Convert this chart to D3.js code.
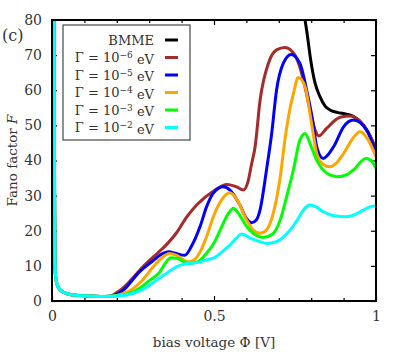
<!DOCTYPE html>
<html>
<head>
<meta charset="utf-8">
<script src="https://cdn.jsdelivr.net/npm/d3@7"></script>
<style>
  body { margin: 0; background: #fff; }
  svg { display: block; }
  svg text { font-family: "DejaVu Serif", "Liberation Serif", serif; }
</style>
</head>
<body>
<svg id="chart" width="407" height="356"></svg>
<script>
// shared low-bias branch (all Γ curves coincide near Φ = 0)
const lowBias = [[0.006, 84], [0.008, 30], [0.009, 12], [0.011, 7], [0.015, 5], [0.02, 3.8],
  [0.03, 2.8], [0.05, 2.0], [0.08, 1.6], [0.11, 1.4], [0.15, 1.3], [0.18, 1.35]];

const bmme = [[0.775, 84], [0.781, 80], [0.786, 77], [0.8, 67.7], [0.812, 62], [0.827, 58.2],
  [0.843, 55.5], [0.858, 54.4], [0.88, 53.7], [0.909, 53.2], [0.93, 52.6], [0.961, 50.1],
  [0.992, 44.9], [1, 43]];

const gamma6 = [[0.2, 2.4], [0.225, 4.2], [0.25, 6.6], [0.275, 9.2], [0.3, 11.5], [0.33, 14],
  [0.355, 16.2], [0.385, 19.5], [0.415, 23.8], [0.447, 27.4], [0.5, 31.4], [0.54, 33.2], [0.57, 32.5],
  [0.59, 31.6], [0.605, 34], [0.616, 39], [0.627, 44], [0.642, 57], [0.668, 67.7], [0.693, 71.5],
  [0.719, 72.2], [0.75, 70], [0.776, 62.9], [0.796, 54.4], [0.812, 48.7], [0.824, 47],
  [0.848, 49.2], [0.889, 52.3], [0.92, 52.7], [0.961, 50.1], [0.992, 44.9], [1, 43]];

const gamma5 = [[0.2, 1.9], [0.22, 3.1], [0.27, 8.3], [0.31, 11.3], [0.344, 13.6], [0.36, 14],
  [0.38, 13.6], [0.41, 13], [0.43, 15.5], [0.457, 21.2], [0.477, 26.8], [0.498, 30.7],
  [0.529, 32.5], [0.55, 31.5], [0.58, 27.3], [0.6, 23.5], [0.616, 22.3], [0.63, 23],
  [0.642, 25.9], [0.662, 37.3], [0.678, 47.7], [0.693, 60], [0.714, 67.7], [0.738, 70.2],
  [0.765, 67.7], [0.786, 60], [0.806, 50.6], [0.817, 43.9], [0.837, 40.6], [0.869, 43.9],
  [0.9, 49.6], [0.93, 51.5], [0.971, 48.7], [1, 42]];

const gamma4 = [[0.2, 1.6], [0.225, 2.3], [0.251, 3.6], [0.28, 6], [0.313, 9.8], [0.34, 12.3],
  [0.362, 13.5], [0.385, 13], [0.42, 11.2], [0.44, 11.8], [0.46, 14.5], [0.477, 18.3],
  [0.498, 24], [0.525, 29], [0.549, 30.8], [0.57, 29], [0.601, 23], [0.62, 20.3], [0.642, 19.3],
  [0.66, 20], [0.683, 25], [0.704, 35], [0.719, 46], [0.735, 55], [0.745, 59], [0.76, 63.6],
  [0.781, 61], [0.801, 50.6], [0.817, 42], [0.835, 39], [0.858, 38.2], [0.88, 39.5], [0.9, 42],
  [0.93, 46.5], [0.951, 48.2], [0.975, 46], [1, 41]];

const gamma3 = [[0.22, 1.7], [0.25, 2.6], [0.27, 3.6], [0.3, 5.8], [0.333, 8.3], [0.35, 10.8],
  [0.367, 12.3], [0.385, 12.2], [0.42, 10.7], [0.45, 11.2], [0.477, 13.6], [0.5, 16.5],
  [0.519, 20.2], [0.545, 25], [0.56, 26.4], [0.575, 25], [0.601, 21.2], [0.625, 19],
  [0.652, 18.1], [0.68, 19], [0.704, 23], [0.725, 30], [0.745, 37.3], [0.765, 45.8],
  [0.781, 47.7], [0.796, 44.9], [0.817, 40.1], [0.848, 36.4], [0.879, 35.4], [0.91, 36],
  [0.93, 37.3], [0.969, 40.6], [0.985, 40], [1, 37.8]];

const gamma2 = [[0.2, 1.4], [0.251, 2.2], [0.29, 3.8], [0.323, 6], [0.355, 8], [0.385, 9.8],
  [0.416, 10.7], [0.45, 11], [0.477, 11.7], [0.498, 12.2], [0.525, 14], [0.549, 15.9],
  [0.57, 18], [0.585, 19.1], [0.61, 18], [0.632, 17.2], [0.663, 16.4], [0.69, 16.8],
  [0.735, 20.2], [0.76, 23.5], [0.776, 25.9], [0.796, 27.3], [0.815, 26.8], [0.837, 25.4],
  [0.87, 24.3], [0.909, 24], [0.935, 24.6], [0.961, 25.9], [0.99, 27], [1, 27]];

const seriesNames = ["BMME", "-6", "-5", "-4", "-3", "-2"];
const seriesColors = ["#000000", "#a52a2a", "#0000ff", "#ffa500", "#00ff00", "#00ffff"];
const seriesData = [bmme, lowBias.concat(gamma6), lowBias.concat(gamma5),
  lowBias.concat(gamma4), lowBias.concat(gamma3), lowBias.concat(gamma2)];

const xTicks = d3.range(0, 1.0001, 0.1);
const xLabels = [0, 0.5, 1];
const yTicks = d3.range(0, 81, 10);

const margin = { top: 20, right: 31, bottom: 55, left: 52 },
  width = 407 - margin.left - margin.right,
  height = 356 - margin.top - margin.bottom;

const svg = d3.select("#chart");
const g = svg.append("g").attr("transform", `translate(${margin.left},${margin.top})`);

const x = d3.scaleLinear().domain([0, 1]).range([0, width]);
const y = d3.scaleLinear().domain([0, 80]).range([height, 0]);

g.append("clipPath").attr("id", "clip")
  .append("rect").attr("width", width).attr("height", height);

// Axes (inward ticks on all four sides)
const isMajor = v => xLabels.some(l => Math.abs(l - v) < 1e-6);
const fmtX = v => isMajor(v) ? d3.format("~g")(v) : "";

const xAxisBottom = g.append("g").attr("transform", `translate(0,${height})`)
  .call(d3.axisBottom(x).tickValues(xTicks).tickFormat(fmtX).tickSizeInner(-5).tickSizeOuter(0).tickPadding(10));
xAxisBottom.selectAll(".tick line").attr("y2", d => isMajor(d) ? -5 : -3);

const xAxisTop = g.append("g")
  .call(d3.axisTop(x).tickValues(xTicks).tickFormat("").tickSizeInner(-5).tickSizeOuter(0));
xAxisTop.selectAll(".tick line").attr("y2", d => isMajor(d) ? 5 : 3);

g.append("g")
  .call(d3.axisLeft(y).tickValues(yTicks).tickSizeInner(-5).tickSizeOuter(0).tickPadding(10));

g.append("g").attr("transform", `translate(${width},0)`)
  .call(d3.axisRight(y).tickValues(yTicks).tickFormat("").tickSizeInner(-5).tickSizeOuter(0));

g.selectAll(".domain").remove();
g.selectAll("g").attr("font-family", null);
g.selectAll(".tick line").attr("stroke", "#000").attr("stroke-width", 1.2);
g.selectAll(".tick text").attr("font-size", 14).attr("fill", "#333");

// Curves
const line = d3.line()
  .x(d => x(d[0]))
  .y(d => y(d[1]))
  .curve(d3.curveMonotoneX);

g.append("g").attr("clip-path", "url(#clip)")
  .selectAll("path")
  .data(seriesData)
  .enter()
  .append("path")
  .attr("d", line)
  .attr("fill", "none")
  .attr("stroke", (d, i) => seriesColors[i])
  .attr("stroke-width", 3)
  .attr("stroke-linejoin", "round");

// Frame
g.append("rect")
  .attr("width", width).attr("height", height)
  .attr("fill", "none").attr("stroke", "#000").attr("stroke-width", 2);

// Legend
const legend = g.append("g").attr("transform", "translate(11,5)");
legend.append("rect")
  .attr("width", 127).attr("height", 115)
  .attr("fill", "#fff").attr("stroke", "#555").attr("stroke-width", 1.3);

const rows = legend.selectAll(".row")
  .data(seriesNames)
  .enter()
  .append("g")
  .attr("class", "row")
  .attr("transform", (d, i) => `translate(0,${15 + i * 17.5})`);

rows.append("line")
  .attr("x1", 102).attr("x2", 115)
  .attr("stroke", (d, i) => seriesColors[i])
  .attr("stroke-width", 3);

const labels = rows.append("text")
  .attr("x", 91).attr("dy", "0.35em")
  .attr("text-anchor", "end")
  .attr("font-size", 13).attr("fill", "#333");

labels.each(function (d, i) {
  const t = d3.select(this);
  if (i === 0) { t.text(d); return; }
  t.append("tspan").text("Γ = 10");
  t.append("tspan").attr("dy", "-0.45em").attr("font-size", 9).text("−" + d.slice(1));
  t.append("tspan").attr("dy", "0.45em").text(" eV");
});

// Axis titles
const yTitle = svg.append("text")
  .attr("transform", `translate(17,${margin.top + height / 2}) rotate(-90)`)
  .attr("text-anchor", "middle")
  .attr("font-size", 13.5).attr("fill", "#333");
yTitle.append("tspan").text("Fano factor ");
yTitle.append("tspan").attr("font-style", "italic").text("F");

svg.append("text")
  .attr("x", margin.left + width / 2).attr("y", 347)
  .attr("text-anchor", "middle")
  .attr("font-size", 13.5).attr("fill", "#333")
  .text("bias voltage Φ [V]");

svg.append("text")
  .attr("x", 2).attr("y", 41)
  .attr("font-size", 16).attr("fill", "#333")
  .text("(c)");
</script>
</body>
</html>
